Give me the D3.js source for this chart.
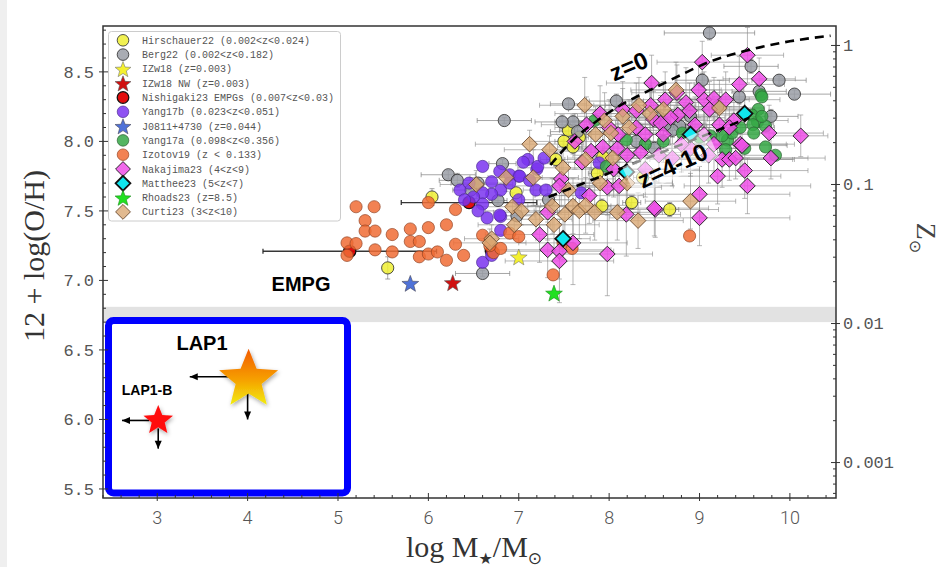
<!DOCTYPE html>
<html><head><meta charset="utf-8">
<script src="https://cdn.jsdelivr.net/npm/d3@7"></script>
<style>body{margin:0;background:#fff}</style>
</head><body><svg id="c" width="947" height="567"></svg>
<script>
// ---------------- data: [logM, 12+log(O/H), xerr, yerr] ----------------
const hirschauer22 = [[6.04,7.60,0,0.06],[5.55,7.09,0,0.08],[6.97,7.63,0,0],[7.55,8.08,0.1,0.05],[7.41,7.87,0.1,0.05],[7.92,7.535,0.1,0.05],[8.25,7.56,0.1,0.05],[7.93,7.89,0.1,0.05],[8.37,7.74,0.1,0.05],[8.67,7.51,0.1,0.05],[7.67,8.03,0.1,0.05],[7.87,7.77,0.1,0.05],[7.50,8.00,0.1,0.05],[7.60,7.96,0.1,0.05]];
const berg22 = [[6.22,7.76,0.3,0.03],[6.32,7.72,0.2,0.05],[6.47,7.65,0.2,0.03],[6.82,7.84,0.15,0.03],[6.77,7.575,0.1,0.03],[6.60,7.05,0.3,0.02],[6.84,8.15,0.3,0.02],[7.55,8.27,0.2,0.03],[7.60,8.14,0.2,0.05],[7.48,8.14,0.3,0.05],[7.65,8.07,0.3,0.05],[6.98,7.465,0.2,0.03],[8.08,8.29,0.3,0.05],[9.11,8.78,0.5,0.05],[9.57,8.54,0.3,0.05],[9.88,8.44,0.3,0.03],[10.05,8.34,0.4,0.03],[9.03,8.44,0.3,0.05],[9.66,8.36,0.3,0.05],[9.44,8.32,0.3,0.05],[9.79,8.18,0.3,0.05],[8.78,8.11,0.3,0.05],[7.33,7.58,0.3,0.03],[8.55,8.17,0.3,0.05],[8.70,8.08,0.3,0.05],[9.20,8.25,0.3,0.05],[6.55,7.70,0.3,0.03],[8.30,8.00,0.3,0.05],[8.50,7.95,0.3,0.05],[8.90,8.18,0.3,0.05],[8.62,8.12,0.3,0.05]];
const izw18 = [[7.0,7.17]];
const izw18nw = [[6.27,6.985]];
const nishigaki23 = [[5.13,7.21,0.96,0],[6.45,7.56,0.75,0],[6.70,7.21,0,0]];
const yang17b = [[6.60,7.82],[6.70,7.71],[6.80,7.65],[6.70,7.62],[6.60,7.63],[6.60,7.55],[6.80,7.46],[6.80,7.36],[6.60,7.13],[6.70,7.18],[7.00,7.75],[7.10,7.87],[7.19,7.65],[7.20,7.80],[6.79,7.785],[6.90,7.76],[7.01,7.75],[7.21,7.82],[7.28,7.88],[6.79,7.47],[7.69,7.63],[7.89,7.845],[6.45,7.70],[6.50,7.60],[6.35,7.65],[6.40,7.58],[6.90,7.70],[7.05,7.85],[7.30,7.65],[6.65,7.45],[6.55,7.50],[7.00,7.58],[7.12,7.72]];
const j0811 = [[5.80,6.98]];
const yang17a = [[9.68,8.335],[9.65,8.23],[9.64,8.14],[9.58,8.19],[9.73,8.11],[9.73,7.96],[9.84,7.90],[9.31,8.01],[9.36,8.06],[9.29,7.94],[9.69,8.18],[9.59,8.12],[9.60,8.06],[9.25,8.04],[9.12,8.04],[7.84,8.15],[8.19,8.01],[8.81,8.06],[9.00,8.03],[9.69,8.32],[7.97,7.82],[8.60,8.00],[9.45,8.10],[9.50,7.95],[8.40,7.98]];
const izotov19 = [[5.10,7.27],[5.20,7.265],[5.10,7.18],[5.20,7.53],[5.40,7.53],[5.30,7.43],[5.30,7.355],[5.41,7.355],[5.41,7.22],[5.60,7.33],[5.60,7.205],[5.80,7.37],[5.80,7.28],[5.90,7.28],[6.00,7.38],[6.20,7.40],[5.90,7.17],[6.00,7.19],[6.10,7.205],[6.20,7.145],[6.30,7.26],[6.39,7.18],[6.30,7.51],[6.00,7.56],[6.60,7.325],[6.72,7.20],[6.80,7.23],[6.90,7.34],[7.00,7.315],[6.68,7.25],[7.38,7.04],[7.49,7.27],[7.59,7.23],[8.89,7.32]];
const nakajima23 = [[9.03,8.57,0.5,0.15],[9.53,8.62,0.4,0.2],[9.66,8.45,0.4,0.15],[9.44,8.41,0.5,0.2],[8.47,8.42,0.5,0.2],[8.46,8.26,0.5,0.2],[8.85,8.28,0.6,0.25],[9.05,8.30,0.5,0.2],[9.16,8.31,0.5,0.15],[9.29,8.30,0.6,0.2],[8.89,8.22,0.6,0.2],[9.11,8.23,0.5,0.2],[9.22,8.12,0.6,0.2],[9.38,8.15,0.6,0.2],[9.33,8.10,0.5,0.15],[8.76,8.19,0.6,0.2],[8.49,8.16,0.6,0.2],[8.57,8.13,0.5,0.2],[9.16,7.98,0.8,0.2],[9.45,7.98,0.6,0.2],[9.77,8.06,0.6,0.2],[10.12,8.04,0.3,0.15],[9.79,7.88,0.6,0.15],[9.25,7.87,0.8,0.2],[9.33,7.87,0.7,0.15],[9.40,7.88,0.8,0.15],[9.50,7.79,0.7,0.2],[9.53,7.68,0.7,0.2],[9.00,7.62,1.0,0.2],[8.51,7.51,0.7,0.2],[9.00,7.45,1.0,0.2],[9.47,7.97,0.5,0.15],[8.15,8.23,0.6,0.2],[7.62,8.00,0.5,0.2],[7.93,7.96,0.5,0.2],[7.80,7.93,0.5,0.2],[8.09,7.95,0.6,0.2],[7.47,7.73,0.6,0.2],[7.45,7.68,0.6,0.2],[7.98,7.67,0.6,0.2],[8.11,7.68,0.6,0.2],[7.78,7.61,0.6,0.2],[7.32,7.49,0.6,0.2],[7.23,7.33,0.6,0.2],[7.32,7.22,0.7,0.2],[7.45,7.21,0.6,0.2],[7.45,7.14,0.6,0.3],[7.60,7.27,0.6,0.3],[7.98,7.19,0.5,0.3],[8.19,7.475,0.6,0.3],[8.50,7.52,0.6,0.2],[8.99,8.37,0.5,0.2],[8.30,8.10,0.6,0.2],[8.60,8.05,0.6,0.2],[8.20,7.90,0.6,0.2],[8.00,8.10,0.6,0.2],[7.70,7.85,0.6,0.2],[8.40,7.80,0.6,0.2],[8.70,7.88,0.6,0.2],[8.90,7.95,0.6,0.2],[8.30,8.22,0.6,0.2],[8.62,8.30,0.5,0.2],[8.75,8.35,0.5,0.2],[8.40,8.05,0.6,0.2],[8.68,8.17,0.6,0.2],[8.95,8.12,0.6,0.2],[9.05,8.05,0.6,0.2],[8.80,7.98,0.6,0.2],[9.10,7.90,0.7,0.2],[9.20,7.75,0.7,0.2],[8.10,8.05,0.6,0.2],[7.90,8.20,0.5,0.2],[7.75,8.12,0.5,0.2],[8.05,7.80,0.6,0.2],[8.55,7.90,0.6,0.2],[8.35,7.92,0.6,0.2]];
const matthee23 = [[7.49,7.30,0.3,0.15],[8.19,7.78,0.3,0.1],[8.90,8.05,0.3,0.1],[9.50,8.20,0.3,0.1]];
const rhoads23 = [[7.39,6.91]];
const curti23 = [[7.12,7.98,0.6,0.1],[6.53,7.69,0.4,0.1],[6.86,7.74,0.4,0.1],[6.93,7.53,0.4,0.1],[7.03,7.50,0.4,0.1],[7.19,7.44,0.4,0.1],[6.70,7.30,0.3,0.1],[7.34,7.94,0.5,0.1],[7.39,7.40,0.5,0.2],[7.37,7.535,0.5,0.2],[7.60,7.535,0.5,0.2],[7.67,7.50,0.5,0.2],[7.51,7.475,0.5,0.2],[7.74,7.54,0.5,0.2],[7.84,7.49,0.5,0.2],[8.09,7.49,0.5,0.2],[8.32,7.43,0.5,0.2],[6.68,7.27,0.4,0.1],[7.49,7.81,0.5,0.2],[7.74,7.87,0.5,0.2],[8.04,7.88,0.5,0.2],[8.33,8.26,0.5,0.2],[8.02,8.06,0.5,0.2],[8.22,8.10,0.5,0.2],[8.74,8.37,0.5,0.2],[9.22,8.24,0.5,0.2],[7.73,8.26,0.5,0.2],[8.90,7.57,0.5,0.2],[7.16,7.74,0.5,0.2],[7.90,7.70,0.5,0.2],[8.20,7.70,0.5,0.2],[6.95,7.40,0.4,0.1],[7.55,7.65,0.5,0.2],[7.95,8.15,0.5,0.2],[8.15,8.18,0.5,0.2],[8.45,8.20,0.5,0.2],[8.60,8.23,0.5,0.2],[7.85,8.05,0.5,0.2]];
const mzrZ0 = [[7.35,7.83],[7.60,8.01],[7.85,8.14],[8.10,8.25],[8.33,8.33],[8.55,8.40],[8.80,8.48],[9.10,8.57],[9.50,8.65],[10.0,8.72],[10.45,8.76]];
const mzrHighZ = [[7.33,7.60],[9.55,8.17]];
const lap1 = [4.0, 6.30];
const lap1b = [3.0, 6.00];
const empgLimit = [6.70, 6.81];
const xTicks = [3,4,5,6,7,8,9,10];
const yTicks = [5.5,6.0,6.5,7.0,7.5,8.0,8.5];
const zTicks = [1,0.1,0.01,0.001];
const zTickLabels = ["1","0.1","0.01","0.001"];
const legendLabels = ["Hirschauer22 (0.002<z<0.024)","Berg22 (0.002<z<0.182)","IZw18 (z=0.003)","IZw18 NW (z=0.003)","Nishigaki23 EMPGs (0.007<z<0.03)","Yang17b (0.023<z<0.051)","J0811+4730 (z=0.044)","Yang17a (0.098<z<0.356)","Izotov19 (z < 0.133)","Nakajima23 (4<z<9)","Matthee23 (5<z<7)","Rhoads23 (z=8.5)","Curti23 (3<z<10)"];

// ---------------- drawing ----------------
const svg = d3.select('#c');
const L=103,R=836,T=26,B=498;
const x = d3.scaleLinear().domain([2.4,10.51]).range([L,R]);
const y = d3.scaleLinear().domain([5.435,8.83]).range([B,T]);
const zSun = 8.69;
const yz = d3.scaleLog().domain([Math.pow(10,5.435-zSun),Math.pow(10,8.83-zSun)]).range([B,T]);

svg.append('rect').attr('x',0).attr('y',0).attr('width',947).attr('height',567).attr('fill','#fff');
svg.append('rect').attr('x',0).attr('y',0).attr('width',7).attr('height',567).attr('fill','#efefef');

const defs = svg.append('defs');
defs.append('clipPath').attr('id','clip').append('rect').attr('x',L).attr('y',T).attr('width',R-L).attr('height',B-T);
const g1 = defs.append('linearGradient').attr('id','lapgrad').attr('x1',0).attr('y1',0).attr('x2',0).attr('y2',1);
g1.append('stop').attr('offset','0%').attr('stop-color','#f25a00');
g1.append('stop').attr('offset','55%').attr('stop-color','#f6a000');
g1.append('stop').attr('offset','100%').attr('stop-color','#f2ec10');
const f = defs.append('filter').attr('id','shadow').attr('x','-30%').attr('y','-30%').attr('width','160%').attr('height','160%');
f.append('feDropShadow').attr('dx',1).attr('dy',2).attr('stdDeviation',2).attr('flood-color','#000').attr('flood-opacity',0.35);

function starPath(Rr, ratio){
  ratio = ratio||0.4;
  const pts=[];
  for(let i=0;i<10;i++){
    const r = i%2===0?Rr:Rr*ratio;
    const a = -Math.PI/2 + i*Math.PI/5;
    pts.push([r*Math.cos(a), r*Math.sin(a)]);
  }
  return 'M'+pts.map(p=>p[0].toFixed(2)+','+p[1].toFixed(2)).join('L')+'Z';
}
function diamondPath(s){ return `M0,${-s}L${s},0L0,${s}L${-s},0Z`; }

const plot = svg.append('g').attr('clip-path','url(#clip)');

// EMPG band
plot.append('rect').attr('x',L).attr('width',R-L)
  .attr('y',y(empgLimit[1])).attr('height',y(empgLimit[0])-y(empgLimit[1]))
  .attr('fill','#e2e2e2');

// error bars
const errG = plot.append('g');
function errbars(data, color, op, w){
  data.forEach(d=>{
    const ex=d[2]||0, ey=d[3]||0;
    const cx=x(d[0]), cy=y(d[1]);
    if(ex>0){
      errG.append('line').attr('x1',x(d[0]-ex)).attr('x2',x(d[0]+ex)).attr('y1',cy).attr('y2',cy)
        .attr('stroke',color).attr('stroke-width',w).attr('opacity',op);
      [d[0]-ex,d[0]+ex].forEach(v=>errG.append('line').attr('x1',x(v)).attr('x2',x(v)).attr('y1',cy-2.5).attr('y2',cy+2.5)
        .attr('stroke',color).attr('stroke-width',w).attr('opacity',op));
    }
    if(ey>0){
      errG.append('line').attr('x1',cx).attr('x2',cx).attr('y1',y(d[1]-ey)).attr('y2',y(d[1]+ey))
        .attr('stroke',color).attr('stroke-width',w).attr('opacity',op);
      [d[1]-ey,d[1]+ey].forEach(v=>errG.append('line').attr('x1',cx-2.5).attr('x2',cx+2.5).attr('y1',y(v)).attr('y2',y(v))
        .attr('stroke',color).attr('stroke-width',w).attr('opacity',op));
    }
  });
}
errbars(hirschauer22,'#777',0.65,1);
errbars(berg22,'#777',0.65,1);
errbars(yang17a,'#888',0.6,1);
errbars(nakajima23,'#888',0.6,1);
errbars(matthee23,'#888',0.6,1);
errbars(curti23,'#888',0.6,1);
errbars(nishigaki23,'#222',0.9,1.3);

// markers
const series = [
  {data:hirschauer22, type:'circle', fill:'#eeee33', stroke:'#333', sw:0.9, op:0.85},
  {data:berg22, type:'circle', fill:'#9a9ea6', stroke:'#333', sw:0.9, op:0.85},
  {data:izw18, type:'star', fill:'#f4f030', stroke:'#777', sw:0.6, op:1},
  {data:izw18nw, type:'star', fill:'#d01010', stroke:'#555', sw:0.6, op:1},
  {data:nishigaki23, type:'circle', fill:'#e00000', stroke:'#111', sw:1.3, op:0.95},
  {data:yang17b, type:'circle', fill:'#7a34f0', stroke:'#4a2a90', sw:0.7, op:0.85},
  {data:j0811, type:'star', fill:'#4f72d8', stroke:'#445', sw:0.6, op:1},
  {data:yang17a, type:'circle', fill:'#35a845', stroke:'#2a5a30', sw:0.7, op:0.85},
  {data:izotov19, type:'circle', fill:'#f06c35', stroke:'#904020', sw:0.7, op:0.85},
  {data:nakajima23, type:'diamond', fill:'#ee4fe8', stroke:'#222', sw:1, op:0.85},
  {data:matthee23, type:'diamond', fill:'#10e6ee', stroke:'#111', sw:1.8, op:1},
  {data:rhoads23, type:'star', fill:'#20e020', stroke:'#1a8a1a', sw:0.6, op:1},
  {data:curti23, type:'diamond', fill:'#daa873', stroke:'#6a4a30', sw:1, op:0.8}
];
function marker(sel, s, cx, cy, scale){
  scale = scale||1;
  let el;
  if(s.type==='circle') el = sel.append('circle').attr('cx',cx).attr('cy',cy).attr('r',6.1*scale);
  else if(s.type==='diamond') el = sel.append('path').attr('d',diamondPath(7.8*scale)).attr('transform',`translate(${cx},${cy})`);
  else el = sel.append('path').attr('d',starPath(8.8*scale,0.42)).attr('transform',`translate(${cx},${cy+1})`);
  el.attr('fill',s.fill).attr('stroke',s.stroke).attr('stroke-width',s.sw).attr('fill-opacity',s.op).attr('stroke-opacity',Math.min(1,s.op+0.1));
  return el;
}
const mk = plot.append('g');
series.forEach(s=>s.data.forEach(d=>marker(mk,s,x(d[0]),y(d[1]))));

// relations
const line = d3.line().x(d=>x(d[0])).y(d=>y(d[1])).curve(d3.curveMonotoneX);
plot.append('path').attr('d',line(mzrZ0)).attr('fill','none').attr('stroke','#000').attr('stroke-width',2.6).attr('stroke-dasharray','9,6');
plot.append('path').attr('d',line(mzrHighZ)).attr('fill','none').attr('stroke','#000').attr('stroke-width',2.6).attr('stroke-dasharray','9,6');

// labels on relations
svg.append('text').attr('transform','translate(632,74) rotate(-23)').attr('text-anchor','middle')
  .attr('font-family','Liberation Sans, Arial, sans-serif').attr('font-weight','bold').attr('font-size',24).text('z=0');
const zl = svg.append('g').attr('transform','translate(673,167) rotate(-25)');
zl.append('rect').attr('x',-46).attr('y',-21).attr('width',92).attr('height',32).attr('fill','#fff').attr('fill-opacity',0.55);
zl.append('text').attr('text-anchor','middle').attr('y',7)
  .attr('font-family','Liberation Sans, Arial, sans-serif').attr('font-weight','bold').attr('font-size',24).text('z=4-10');

svg.append('text').attr('x',301).attr('y',291).attr('text-anchor','middle')
  .attr('font-family','Liberation Sans, Arial, sans-serif').attr('font-weight','bold').attr('font-size',20).text('EMPG');

// blue box with LAP1
svg.append('rect').attr('x',108.5).attr('y',320.5).attr('width',239).attr('height',172.5).attr('rx',5)
  .attr('fill','#fff').attr('stroke','#0000ff').attr('stroke-width',7);

function arrow(x1,y1,x2,y2){
  svg.append('line').attr('x1',x1).attr('y1',y1).attr('x2',x2).attr('y2',y2).attr('stroke','#000').attr('stroke-width',1.6);
  const a=Math.atan2(y2-y1,x2-x1), hl=8, hw=3.5;
  const p=[[x2,y2],[x2-hl*Math.cos(a)+hw*Math.sin(a), y2-hl*Math.sin(a)-hw*Math.cos(a)],[x2-hl*Math.cos(a)-hw*Math.sin(a), y2-hl*Math.sin(a)+hw*Math.cos(a)]];
  svg.append('path').attr('d','M'+p.map(q=>q.join(',')).join('L')+'Z').attr('fill','#000');
}
// LAP1
arrow(x(lap1[0])-15, y(lap1[1])-1, x(3.36), y(lap1[1])-1);
arrow(x(lap1[0]), y(lap1[1])+12, x(lap1[0]), y(6.0));
svg.append('path').attr('d',starPath(31,0.44)).attr('transform',`translate(${x(lap1[0])+1},${y(lap1[1])+2})`)
  .attr('fill','url(#lapgrad)').attr('filter','url(#shadow)');
svg.append('text').attr('x',202).attr('y',350).attr('text-anchor','middle')
  .attr('font-family','Liberation Sans, Arial, sans-serif').attr('font-weight','bold').attr('font-size',20).text('LAP1');
// LAP1-B
arrow(x(lap1b[0])-8, y(lap1b[1])+1, x(2.61), y(lap1b[1])+1);
arrow(x(lap1b[0])+1, y(lap1b[1])+9, x(lap1b[0])+1, y(5.79));
svg.append('path').attr('d',starPath(15.5,0.44)).attr('transform',`translate(${x(lap1b[0])+1},${y(lap1b[1])+1})`)
  .attr('fill','#ff0a0a').attr('filter','url(#shadow)');
svg.append('text').attr('x',147).attr('y',395).attr('text-anchor','middle')
  .attr('font-family','Liberation Sans, Arial, sans-serif').attr('font-weight','bold').attr('font-size',14).text('LAP1-B');

// frame and ticks
const ax = svg.append('g').attr('stroke','#333');
ax.append('rect').attr('x',L).attr('y',T).attr('width',R-L).attr('height',B-T).attr('fill','none').attr('stroke-width',1.5);
for(let v=5.5; v<=8.81; v+=0.1){
  const vv=Math.round(v*10)/10, major=Math.abs(vv*2-Math.round(vv*2))<1e-6;
  ax.append('line').attr('x1',major?L-4:L).attr('x2',L+(major?5:3)).attr('y1',y(vv)).attr('y2',y(vv)).attr('stroke-width',1);
}
for(let v=2.4; v<=10.5; v+=0.2){
  const vv=Math.round(v*10)/10, major=Math.abs(vv-Math.round(vv))<1e-6;
  ax.append('line').attr('x1',x(vv)).attr('x2',x(vv)).attr('y1',B-(major?5:3)).attr('y2',major?B+3:B).attr('stroke-width',1);
}
for(let e=-4;e<=0;e++){
  for(let m=1;m<=9;m++){
    const v=m*Math.pow(10,e);
    const py=yz(v);
    if(py<T||py>B) continue;
    ax.append('line').attr('x1',R-(m===1?5:3)).attr('x2',m===1?R+4:R).attr('y1',py).attr('y2',py).attr('stroke-width',1);
  }
}
const mono = 'Liberation Mono, DejaVu Sans Mono, monospace';
yTicks.forEach(v=>svg.append('text').attr('x',94).attr('y',y(v)).attr('dy','0.35em').attr('text-anchor','end')
  .attr('font-family',mono).attr('font-size',17).attr('fill','#555').text(v.toFixed(1)));
zTicks.forEach((v,i)=>svg.append('text').attr('x',843).attr('y',yz(v)).attr('dy','0.35em')
  .attr('font-family',mono).attr('font-size',17).attr('fill','#555').text(zTickLabels[i]));
xTicks.forEach(v=>svg.append('text').attr('x',x(v)).attr('y',524).attr('text-anchor','middle')
  .attr('font-family','Liberation Sans Narrow, Roboto, sans-serif').attr('font-weight',300).attr('font-size',18).attr('fill','#555').text(v));

// axis titles
const serif='Liberation Serif, DejaVu Serif, serif';
svg.append('text').attr('transform','translate(44,256) rotate(-90)').attr('text-anchor','middle')
  .attr('font-family',serif).attr('font-size',30).attr('fill','#333').text('12 + log(O/H)');
const xl = svg.append('text').attr('x',474).attr('y',557).attr('text-anchor','middle')
  .attr('font-family',serif).attr('font-size',30).attr('fill','#333');
xl.append('tspan').text('log M');
xl.append('tspan').attr('font-size',16).attr('dy',7).attr('font-family','DejaVu Sans').text('★');
xl.append('tspan').attr('dy',-7).text('/M');
xl.append('tspan').attr('font-size',17).attr('dy',7).attr('font-family','DejaVu Sans').text('⊙');
const zlab = svg.append('text').attr('transform','translate(917,238) rotate(90)').attr('text-anchor','middle')
  .attr('font-family',serif).attr('font-size',28).attr('fill','#444');
zlab.append('tspan').text('Z');
zlab.append('tspan').attr('font-size',16).attr('dy',7).attr('font-family','DejaVu Sans').text('⊙');

// legend
const lg = svg.append('g');
lg.append('rect').attr('x',108.5).attr('y',31.5).attr('width',232).attr('height',189.5).attr('rx',3)
  .attr('fill','#fff').attr('fill-opacity',0.9).attr('stroke','#ccc');
legendLabels.forEach((lab,i)=>{
  const yy = 40.3 + i*14.3;
  marker(lg, series[i], 123, yy, 0.95);
  lg.append('text').attr('x',142).attr('y',yy).attr('dy','0.35em').attr('font-family',mono).attr('font-size',10)
    .attr('fill','#555').text(lab);
});
</script></body></html>
